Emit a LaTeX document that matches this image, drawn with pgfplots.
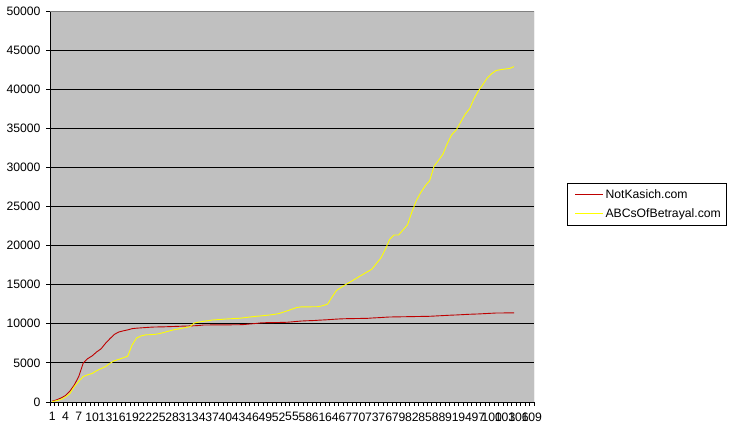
\documentclass[border=0pt]{standalone}
\usepackage{pgfplots}
\usepackage{pgfplotstable}
\pgfplotsset{compat=1.18}
\usepackage{fontspec}
\setmainfont{Liberation Sans}
\definecolor{plotgray}{RGB}{192,192,192}
\definecolor{bordergray}{RGB}{128,128,128}
\definecolor{nkred}{RGB}{190,0,0}
\definecolor{abcyellow}{RGB}{255,255,0}

\pgfplotstableread{
k red yellow
1 100 50
2 280 170
3 520 330
4 830 650
5 1400 1100
6 2200 2000
7 3300 2650
8 5000 3260
9 5550 3480
10 5900 3650
11 6400 4000
12 6800 4270
13 7500 4520
14 8100 4950
15 8650 5280
16 8950 5450
17 9100 5650
18 9220 5860
19 9380 7300
20 9440 8180
21 9480 8450
22 9520 8580
23 9560 8610
24 9590 8640
25 9600 8730
26 9610 8870
27 9630 9030
28 9650 9180
29 9670 9300
30 9690 9410
31 9710 9520
32 9730 9630
33 9750 10100
34 9780 10220
35 9840 10310
36 9850 10390
37 9855 10480
38 9860 10520
39 9860 10560
40 9865 10610
41 9870 10640
42 9875 10670
43 9880 10700
44 9900 10760
45 9950 10830
46 10000 10900
47 10050 10960
48 10120 11010
49 10140 11070
50 10150 11130
51 10160 11210
52 10170 11300
53 10180 11480
54 10200 11670
55 10250 11870
56 10300 12070
57 10350 12160
58 10380 12170
59 10400 12170
60 10420 12180
61 10460 12190
62 10490 12330
63 10520 12510
64 10560 13400
65 10600 14250
66 10630 14630
67 10650 14990
68 10660 15310
69 10670 15650
70 10680 15990
71 10690 16330
72 10700 16660
73 10740 16990
74 10770 17700
75 10800 18400
76 10840 19500
77 10870 20800
78 10880 21360
79 10890 21360
80 10900 22000
81 10910 22640
82 10920 24300
83 10930 25750
84 10940 26800
85 10950 27650
86 10960 28300
87 10990 30150
88 11020 30900
89 11050 31700
90 11080 33100
91 11110 34200
92 11130 34800
93 11160 35800
94 11190 36800
95 11220 37500
96 11240 38800
97 11260 39800
98 11290 40600
99 11320 41450
100 11350 42000
101 11380 42400
102 11380 42500
103 11390 42580
104 11390 42650
105 11400 42890
}\datatable

\begin{document}
\begin{tikzpicture}
\useasboundingbox (0,0) rectangle (730bp,435bp);
\begin{axis}[
  at={(50bp,33bp)}, anchor=south west,
  scale only axis, width=484bp, height=391bp,
  xmin=0.5, xmax=109.5, ymin=0, ymax=50000,
  axis background/.style={fill=plotgray},
  axis x line*=bottom, axis y line*=left,
  axis line style={black, line width=0.8bp, -},
  ytick={0,5000,...,50000},
  xtick={1,4,...,109},
  minor xtick={0.5,1.5,...,109.5},
  tick align=outside,
  major tick length=4bp, minor tick length=4bp,
  major x tick style={draw=none},
  minor x tick style={black, line width=0.8bp},
  major y tick style={black, line width=0.8bp},
  ymajorgrids, major grid style={black, line width=0.8bp},
  scaled y ticks=false,
  /pgf/number format/.cd, 1000 sep={}, assume math mode=true,
  /pgfplots/.cd,
  tick label style={font=\fontsize{12.2bp}{14bp}\selectfont, black},
  xticklabel style={yshift=-3bp},
  yticklabel style={xshift=-2bp},
  legend style={at={(1.068,0.560)}, anchor=north west, draw=black, fill=white,
    font=\fontsize{12.2bp}{14bp}\selectfont, row sep=5bp,
    inner xsep=3bp, inner ysep=4bp},
  legend cell align=left,
  legend image code/.code={\path[draw=none] (0bp,0bp) -- (1bp,0bp); \draw[#1] (5bp,0bp) -- (33bp,0bp);},
]
\addplot[nkred, line width=0.9bp] table[x=k, y=red] {\datatable};
\addlegendentry{NotKasich.com}
\addplot[abcyellow, line width=0.9bp] table[x=k, y=yellow] {\datatable};
\addlegendentry{ABCsOfBetrayal.com}
\draw[bordergray, line width=0.8bp] (rel axis cs:0,1) -- (rel axis cs:1,1) -- (rel axis cs:1,0);
\end{axis}
\end{tikzpicture}
\end{document}
